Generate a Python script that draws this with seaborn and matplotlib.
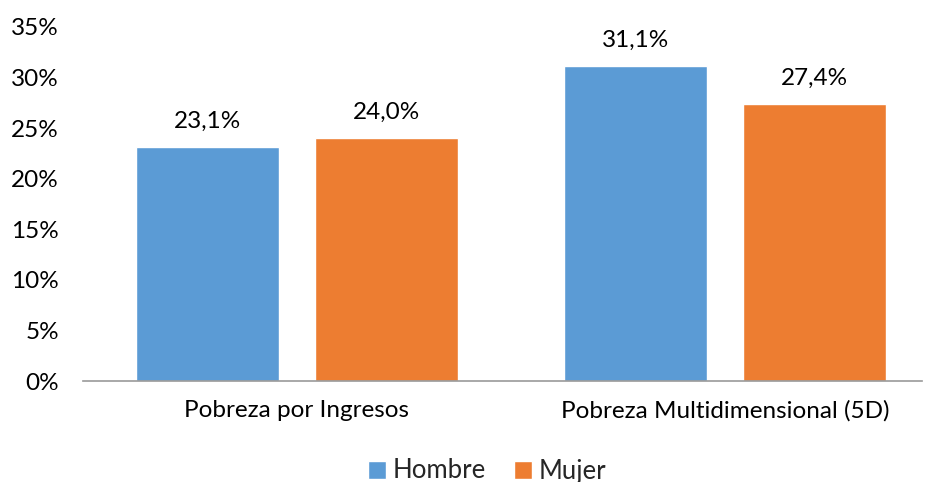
import pandas as pd
import matplotlib.pyplot as plt
import seaborn as sns

# data
categorias = ['Pobreza por Ingresos', 'Pobreza Multidimensional (5D)']
hombre = [23.1, 31.1]
mujer = [24.0, 27.4]
sexos = ['Hombre', 'Mujer']
colores = ['#5B9BD5', '#ED7D31']
y_ticks = [0, 5, 10, 15, 20, 25, 30, 35]

df = pd.DataFrame({
    'categoria': categorias * 2,
    'sexo': [sexos[0]] * len(hombre) + [sexos[1]] * len(mujer),
    'valor': hombre + mujer,
})

sns.set_style('white')
plt.rcParams['font.family'] = ['Lato', 'DejaVu Sans']
fs = 17.5

fig = plt.figure(figsize=(9.25, 4.82), dpi=100)
ax = fig.add_axes([82.5 / 925, 101 / 482, 839.5 / 925, 354 / 482])

sns.barplot(data=df, x='categoria', y='valor', hue='sexo', palette=colores,
            width=0.835, gap=0.2, ax=ax, legend=True, saturation=1)

# value labels with comma as decimal separator
for cont in ax.containers:
    ax.bar_label(cont, labels=[f'{v:.1f}%'.replace('.', ',') for v in cont.datavalues],
                 padding=11, fontsize=fs, color='#000000')

ax.set_ylim(0, 35)
ax.set_xlim(-0.5, 1.46)
ax.set_yticks(y_ticks)
ax.set_yticklabels([f'{t}%' for t in y_ticks], fontsize=fs)
ax.tick_params(axis='x', labelsize=fs, pad=14, length=0, colors='#000000')
ax.tick_params(axis='y', length=0, pad=17, colors='#000000')
ax.set_xlabel('')
ax.set_ylabel('')

for s in ['top', 'right', 'left']:
    ax.spines[s].set_visible(False)
ax.spines['bottom'].set_color('#999999')
ax.spines['bottom'].set_linewidth(1.2)

handles, labels = ax.get_legend_handles_labels()
ax.legend(handles, labels, loc='center', bbox_to_anchor=(487 / 925, 11 / 482),
          bbox_transform=fig.transFigure, ncol=2, frameon=False, fontsize=18.5,
          handlelength=0.7, handleheight=0.7, handletextpad=0.25, columnspacing=1.1)

plt.savefig('out.png', dpi=100)
plt.close()
